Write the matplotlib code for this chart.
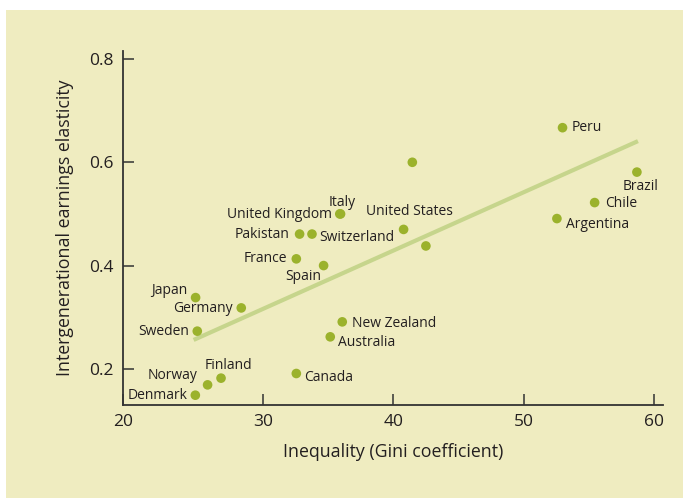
import matplotlib.pyplot as plt
from matplotlib.patches import Rectangle

plt.rcParams['font.family'] = ['Open Sans', 'DejaVu Sans']

# data
countries = ['Peru', 'Brazil', 'Chile', 'Argentina', '', 'United States', '',
             'Italy', 'United Kingdom', 'Switzerland', 'Pakistan', 'France', 'Spain',
             'New Zealand', 'Australia', 'Canada', 'Japan', 'Germany', 'Sweden',
             'Finland', 'Norway', 'Denmark']
gini = [52.97, 58.67, 55.43, 52.54, 41.46, 40.79, 42.5,
        35.96, 35.9, 33.77, 32.82, 32.57, 34.66,
        36.09, 35.17, 32.57, 24.85, 28.35, 24.98,
        26.8, 25.77, 24.83]
elasticity = [0.667, 0.581, 0.522, 0.491, 0.600, 0.470, 0.438,
              0.500, 0.500, 0.461, 0.461, 0.413, 0.400,
              0.291, 0.262, 0.191, 0.338, 0.318, 0.273,
              0.182, 0.169, 0.149]

# fitted line end points
fit_x = [24.7, 58.75]
fit_y = [0.256, 0.641]

# label offsets in pixels (dx, dy, ha)
label_pos = {
    'Peru': (9, 0, 'left'), 'Brazil': (4, -14, 'center'), 'Chile': (11, -1, 'left'),
    'Argentina': (9, -6, 'left'), 'United States': (6, 18, 'center'),
    'Italy': (2, 11, 'center'), 'United Kingdom': (-8, -1, 'right'),
    'Switzerland': (7, -3, 'left'), 'Pakistan': (-10, 0, 'right'),
    'France': (-9, 0, 'right'), 'Spain': (-2, -11, 'right'),
    'New Zealand': (10, -2, 'left'), 'Australia': (8, -6, 'left'),
    'Canada': (8, -4, 'left'), 'Japan': (-8, 7, 'right'),
    'Germany': (-9, -1, 'right'), 'Sweden': (-8, 0, 'right'),
    'Finland': (7, 13, 'center'), 'Norway': (-10, 9, 'right'),
    'Denmark': (-8, 0, 'right'),
}

bg = '#efecc0'
txt = '#231f20'
dot = '#9bb22c'
line_c = '#c6d58c'

fig = plt.figure(figsize=(6.83, 4.98), dpi=100, facecolor='white')
fig.patches.append(Rectangle((6 / 683, -0.1), 1.1, 0.1 + 488 / 498, transform=fig.transFigure,
                             facecolor=bg, edgecolor='none', zorder=-10))
ax = fig.add_axes([123 / 683, (498 - 405) / 498, (663 - 123) / 683, (405 - 51) / 498])
ax.set_facecolor('none')

ax.plot(fit_x, fit_y, color=line_c, lw=3, solid_capstyle='butt', zorder=1)
ax.scatter(gini, elasticity, s=48, color=dot, edgecolor='none', zorder=2)

for name, x, y in zip(countries, gini, elasticity):
    if name == '':
        continue
    dx, dy, ha = label_pos[name]
    ax.annotate(name, (x, y), xytext=(dx, dy), textcoords='offset pixels',
                ha=ha, va='center', fontsize=10, color=txt)

xmin = 20 - 9.3 / 13.05
ax.set_xlim(xmin, 60.67)
ax.set_ylim(0.130, 0.8155)
ax.set_xticks([xmin, 30, 40, 50, 60])
ax.set_xticklabels(['20', '30', '40', '50', '60'])
ax.set_yticks([0.2, 0.4, 0.6, 0.8])
ax.set_yticklabels(['0.2', '0.4', '0.6', '0.8'])

for s in ['top', 'right']:
    ax.spines[s].set_visible(False)
for s in ['left', 'bottom']:
    ax.spines[s].set_color('#333333')
    ax.spines[s].set_linewidth(1.3)
ax.tick_params(direction='in', length=8, width=1.1, color='#333333',
               labelsize=12.5, labelcolor=txt)
ax.tick_params(axis='y', pad=6.5)
ax.tick_params(axis='x', pad=6.5)

ax.set_xlabel('Inequality (Gini coefficient)', fontsize=12.8, color=txt, labelpad=9)
ax.set_ylabel('Intergenerational earnings elasticity', fontsize=12.8, color=txt, labelpad=11)

fig.savefig('out.png', dpi=100, facecolor=fig.get_facecolor())
